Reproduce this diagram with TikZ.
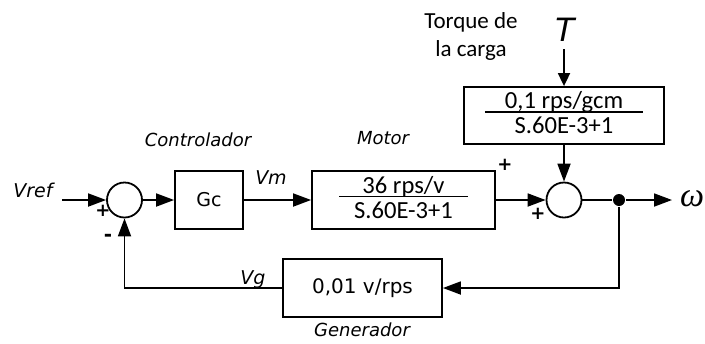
\documentclass[tikz,border=0pt]{standalone}
\usepackage{fontspec}
\usepackage{xcolor}
\usepackage{tikz}
\usetikzlibrary{arrows.meta,positioning,calc}
\newfontfamily\dejavu{DejaVu Sans}
\newfontfamily\carlito{Carlito}
\newfontfamily\libsans{Liberation Sans}
\newfontfamily\libserif{Liberation Serif}
\setlength{\arrayrulewidth}{0.8pt}

\begin{document}
\begin{tikzpicture}[x=0.5pt,y=-0.5pt,line width=0.9pt,
  blk/.style={draw,minimum height=29pt,inner sep=0pt},
  sumnode/.style={draw,circle,minimum size=17.5pt,inner sep=0pt},
  sig/.style={-{Triangle[length=9pt,width=6.5pt]}},
  sigthin/.style={-{Triangle[length=6.5pt,width=6pt]}},
  blkname/.style={font=\dejavu\itshape\fontsize{9}{11}\selectfont},
  signame/.style={font=\dejavu\itshape\fontsize{9.5}{11}\selectfont},
  pm/.style={font=\dejavu\bfseries\fontsize{9}{11}\selectfont,inner sep=0pt},
  fracbox/.style={font=\carlito\fontsize{12.3}{14}\selectfont}]
\useasboundingbox (0,0) rectangle (705,343);

\node[sumnode] (sumA) at (124.5,200) {};
\node[blk,minimum width=34pt,font=\dejavu\fontsize{9.5}{11}\selectfont] (gc) at (209,200) {Gc};
\node[blk,fracbox,minimum width=91.5pt] (motor) at (403.5,200) {\setlength{\tabcolsep}{7.3pt}\begin{tabular}{c}36 rps/v\\[-3pt]\hline\rule{0pt}{10.5pt}S.60E-3+1\end{tabular}};
\node[sumnode] (sumB) at (564,200) {};
\node[blk,fracbox,minimum width=100pt,minimum height=28.5pt] (load) at (564,115.5) {\setlength{\tabcolsep}{10pt}\begin{tabular}{c}0,1 rps/gcm\\[-3pt]\hline\rule{0pt}{10.5pt}S.60E-3+1\end{tabular}};
\node[blk,minimum width=79.5pt,font=\dejavu\fontsize{10}{12}\selectfont] (gen) at (362.5,288) {0,01 v/rps};
\node[circle,fill,inner sep=0pt,minimum size=6pt] (dot) at (619,200) {};
\coordinate (vin) at (62,200);
\coordinate (out) at (672,200);

\node[signame] (vref) at (33,190) {Vref};
\node[signame] (vm) at (271,178) {Vm};
\node[signame] (vg) at (253,280) {Vg};
\node[blkname] (ctrl) at (198,140) {Controlador};
\node[blkname] (mot) at (383,138) {Motor};
\node[blkname] (gener) at (362,330) {Generador};
\node[align=center,font=\carlito\fontsize{11.5}{14}\selectfont] (torque) at (471,36) {Torque de\\la carga};
\node[font=\libsans\itshape\fontsize{17}{18}\selectfont] (T) at (564,30) {T};
\node[font=\libserif\itshape\fontsize{17}{19}\selectfont,inner sep=1pt] (omega) at (692,199) {ω};
\node[pm] (pA) at (103,211) {+};
\node[pm,font=\dejavu\bfseries\fontsize{10}{11}\selectfont] (mA) at (108,238) {-};
\node[pm] (pB) at (505,165) {+};
\node[pm] (pC) at (538,214) {+};

\draw[sig] (vin) -- (sumA);
\draw[sig] (sumA) -- (gc);
\draw[sig] (gc) -- (motor);
\draw[sig] (motor) -- (sumB);
\draw (sumB) -- (dot);
\draw[sig] (dot) -- (out);
\draw[sigthin] (T) -- (load);
\draw[sig] (load) -- (sumB);
\draw[sig] (dot) |- (gen);
\draw[sig] (gen) -| (sumA);
\end{tikzpicture}
\end{document}
